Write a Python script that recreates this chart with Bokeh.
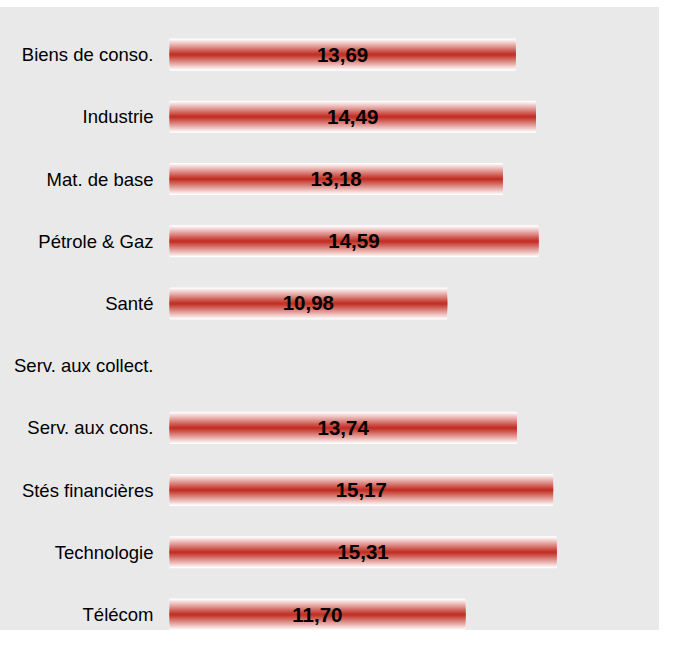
from bokeh.plotting import figure
from bokeh.models import ColumnDataSource, Range1d, FixedTicker, Spacer
from bokeh.layouts import column
from bokeh.core.properties import value
from bokeh.embed import file_html
from bokeh.resources import INLINE
import math

categories = ["Biens de conso.", "Industrie", "Mat. de base", "Pétrole & Gaz", "Santé",
              "Serv. aux collect.", "Serv. aux cons.", "Stés financières", "Technologie", "Télécom"]
values = [13.69, 14.49, 13.18, 14.59, 10.98, float("nan"), 13.74, 15.17, 15.31, 11.70]

n = len(categories)
ypos = [n - 1 - i for i in range(n)]
labels = ["" if math.isnan(v) else f"{v:.2f}".replace(".", ",") for v in values]

src = ColumnDataSource(dict(y=ypos, v=values, cat=categories))
txt_src = ColumnDataSource(dict(
    y=[y for y, v in zip(ypos, values) if not math.isnan(v)],
    half=[v / 2 for v in values if not math.isnan(v)],
    lab=[l for l, v in zip(labels, values) if not math.isnan(v)],
))

BG = "#e9e9e9"
p = figure(width=659, height=623, output_backend="svg", toolbar_location=None,
           x_range=Range1d(0, 19.38), y_range=Range1d(-0.257, 9.5),
           min_border_left=169, min_border_right=0, min_border_top=16, min_border_bottom=0)
p.background_fill_color = None
p.border_fill_color = None
p.styles = {"background-color": BG}
p.outline_line_color = None
p.grid.visible = False
p.xaxis.visible = False

# gradient bar: nested layers from white edges to red core
BAR_H = 0.515
N = 16
red = (194, 48, 38)
for k in range(N):
    t = k / (N - 1)
    col = tuple(int(round(255 + (c - 255) * t)) for c in red)
    h = BAR_H * (N - k) / N
    p.hbar(y="y", left=0, right="v", height=h, source=src,
           fill_color="#%02x%02x%02x" % col, line_color=None)

p.text(x="half", y="y", text="lab", source=txt_src, text_align="center", text_baseline="middle",
       text_font=value("Liberation Sans"), text_font_style="bold", text_font_size="20.5px",
       text_color="black")

ax = p.yaxis[0]
ax.ticker = FixedTicker(ticks=ypos)
ax.major_label_overrides = {y: c for y, c in zip(ypos, categories)}
ax.axis_line_color = None
ax.major_tick_line_color = None
ax.minor_tick_line_color = None
ax.major_tick_out = 0
ax.major_tick_in = 0
ax.major_label_standoff = 16
ax.major_label_text_font = "Liberation Sans"
ax.major_label_text_font_size = "18.5px"
ax.major_label_text_color = "black"

layout = column(Spacer(width=659, height=7), p, spacing=0)
open("out.html", "w").write(file_html(layout, INLINE))
